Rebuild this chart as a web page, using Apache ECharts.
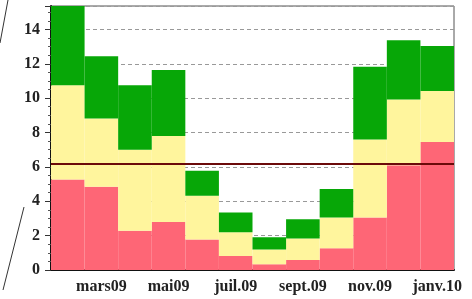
<!DOCTYPE html>
<html>
<head>
<meta charset="utf-8">
<script src="https://cdn.jsdelivr.net/npm/echarts@6/dist/echarts.min.js"></script>
<style>
  html, body { margin: 0; padding: 0; background: #fff; }
  #chart { width: 472px; height: 299px; }
</style>
</head>
<body>
<div id="chart"></div>
<script>
// months feb 2009 -> jan 2010
var months = ['févr.09', 'mars09', 'avr.09', 'mai09', 'juin09', 'juil.09', 'août09', 'sept.09', 'oct.09', 'nov.09', 'déc.09', 'janv.10']
// stacked segments, bottom to top
var redPart = [5.27, 4.84, 2.29, 2.8, 1.78, 0.81, 0.33, 0.58, 1.26, 3.05, 6.1, 7.45]
var yellowPart = [5.48, 3.98, 4.71, 5.0, 2.54, 1.38, 0.87, 1.26, 1.79, 4.55, 3.82, 2.97]
var greenPart = [4.85, 3.62, 3.75, 3.83, 1.45, 1.16, 0.7, 1.11, 1.66, 4.22, 3.45, 2.62]
var refLevel = 6.2
var yTicks = [0, 2, 4, 6, 8, 10, 12, 14]

var chart = echarts.init(document.getElementById('chart'))
var labelFont = {
  fontFamily: 'Liberation Serif',
  fontWeight: 'bold',
  color: '#222'
}

chart.setOption({
  animation: false,
  grid: {
    left: 51,
    right: 18,
    top: 6,
    bottom: 29,
    show: true,
    borderColor: '#555',
    borderWidth: 1
  },
  xAxis: {
    type: 'category',
    data: months,
    axisLine: { lineStyle: { color: '#111', width: 2 } },
    axisTick: {
      alignWithLabel: true,
      interval: function (i) { return i % 2 === 1 },
      length: 5,
      lineStyle: { color: '#333' }
    },
    axisLabel: Object.assign({
      interval: function (i) { return i % 2 === 1 },
      margin: 9,
      fontSize: 16
    }, labelFont),
    splitLine: { show: false }
  },
  yAxis: {
    type: 'value',
    min: 0,
    max: 15.36,
    interval: 2,
    axisLine: { show: true, lineStyle: { color: '#111', width: 2 } },
    axisTick: { show: true, length: 6, lineStyle: { color: '#333' } },
    minorTick: { show: true, splitNumber: 4, length: 3, lineStyle: { color: '#555' } },
    axisLabel: Object.assign({
      margin: 11,
      fontSize: 16,
      showMaxLabel: false,
      formatter: function (v) { return yTicks.indexOf(v) >= 0 ? v : '' }
    }, labelFont),
    splitLine: { show: true, lineStyle: { color: '#999', type: [4, 3], width: 1 } }
  },
  series: [
    {
      name: 'rouge',
      type: 'bar',
      stack: 'tot',
      barCategoryGap: '0%',
      data: redPart,
      itemStyle: { color: '#fe6676' }
    },
    {
      name: 'jaune',
      type: 'bar',
      stack: 'tot',
      data: yellowPart,
      itemStyle: { color: '#fff59d' }
    },
    {
      name: 'vert',
      type: 'bar',
      stack: 'tot',
      data: greenPart,
      itemStyle: { color: '#07a707' },
      markLine: {
        silent: true,
        symbol: 'none',
        label: { show: false },
        lineStyle: { color: '#6b0a0a', width: 2, type: 'solid' },
        data: [{ yAxis: refLevel }]
      }
    }
  ],
  graphic: [
    { type: 'line', shape: { x1: 8, y1: 0, x2: 0, y2: 43 }, style: { stroke: '#333', lineWidth: 1 } },
    { type: 'line', shape: { x1: 24, y1: 207, x2: 3, y2: 290 }, style: { stroke: '#333', lineWidth: 1 } }
  ]
})
</script>
</body>
</html>
